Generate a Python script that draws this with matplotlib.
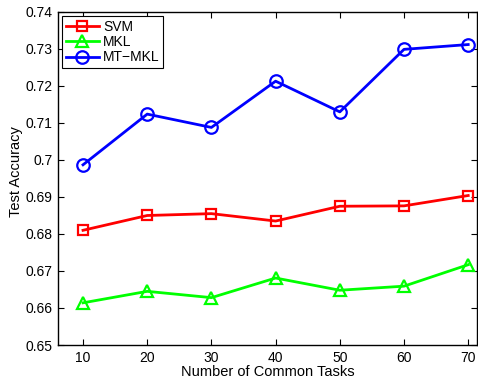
import matplotlib
matplotlib.use("Agg")
import matplotlib.pyplot as plt

plt.rcParams['font.family'] = ['Liberation Sans', 'DejaVu Sans']
plt.rcParams['font.size'] = 10

# data
tasks = [10, 20, 30, 40, 50, 60, 70]
svm = [0.6810, 0.6850, 0.6855, 0.6835, 0.6875, 0.6876, 0.6904]
mkl = [0.6614, 0.6645, 0.6628, 0.6681, 0.6648, 0.6659, 0.6717]
mtmkl = [0.6987, 0.7124, 0.7088, 0.7213, 0.7130, 0.7299, 0.7312]
yticks = [0.65, 0.66, 0.67, 0.68, 0.69, 0.7, 0.71, 0.72, 0.73, 0.74]
ytick_labels = ["0.65", "0.66", "0.67", "0.68", "0.69", "0.7", "0.71", "0.72", "0.73", "0.74"]

fig = plt.figure(figsize=(4.78, 3.78), dpi=100)
ax = fig.add_axes([0.1213, 0.0873, 0.877, 0.881])

ax.plot(tasks, svm, color='#ff0000', lw=2, marker='s', ms=7, mfc='none', mew=1.6, label='SVM')
ax.plot(tasks, mkl, color='#00ff00', lw=2, marker='^', ms=9, mfc='none', mew=1.6, label='MKL')
ax.plot(tasks, mtmkl, color='#0000ff', lw=2, marker='o', ms=9, mfc='none', mew=1.6, label='MT\u2212MKL')

ax.set_xlim(6.1, 71.4)
ax.set_ylim(0.65, 0.74)
ax.set_xticks(tasks)
ax.set_yticks(yticks)
ax.set_yticklabels(ytick_labels)
ax.tick_params(direction='in', top=True, right=True, length=4, width=0.8, colors='black', pad=4)
for s in ax.spines.values():
    s.set_linewidth(1.0)

ax.set_xlabel("Number of Common Tasks", labelpad=0, fontsize=10.5)
ax.set_ylabel("Test Accuracy", fontsize=10.5)
ax.yaxis.set_label_coords(-0.083, 0.52)

leg = ax.legend(loc='upper left', fancybox=False, framealpha=1, edgecolor='black',
                handlelength=2.4, borderaxespad=0.3, borderpad=0.25, labelspacing=0.1,
                handletextpad=0.3)
leg.get_frame().set_linewidth(0.8)

fig.savefig("out.png", dpi=100)
